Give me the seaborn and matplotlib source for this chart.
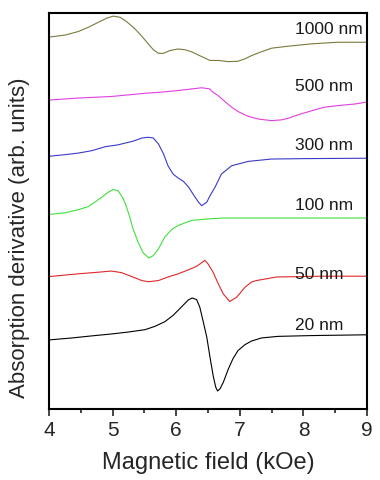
import numpy as np
import pandas as pd
import matplotlib
matplotlib.use("Agg")
import matplotlib.pyplot as plt
from matplotlib.ticker import MultipleLocator
import seaborn as sns

# Spectra (field in kOe, signal in arb. units, already offset)
field_1000 = [4.0, 4.25, 4.46, 4.62, 4.77, 4.91, 5.01, 5.12, 5.22, 5.35, 5.46, 5.56,
              5.64, 5.72, 5.80, 5.90, 6.03, 6.14, 6.24, 6.37, 6.53, 6.66, 6.82, 6.97,
              7.08, 7.18, 7.34, 7.50, 7.76, 8.13, 8.54, 9.0]
signal_1000 = [93.9, 94.4, 95.3, 96.4, 97.6, 98.7, 99.2, 98.9, 97.8, 96.0, 94.1, 92.2,
               90.7, 89.8, 89.8, 90.5, 90.9, 90.7, 90.2, 89.2, 88.0, 88.0, 87.7, 87.8,
               88.4, 89.2, 90.2, 91.1, 91.6, 92.2, 92.6, 92.6]

field_500 = [4.0, 4.46, 4.98, 5.51, 5.77, 6.03, 6.24, 6.40, 6.53, 6.56, 6.66, 6.76,
             6.87, 6.97, 7.13, 7.29, 7.50, 7.66, 7.76, 7.92, 8.13, 8.33, 8.54, 8.81, 9.0]
signal_500 = [78.0, 78.5, 78.9, 79.7, 80.0, 80.4, 80.8, 81.1, 80.8, 80.2, 79.1, 77.7,
              76.2, 75.1, 73.9, 73.2, 72.8, 73.0, 73.4, 74.3, 75.3, 76.2, 76.6, 77.0, 77.5]

field_300 = [4.0, 4.25, 4.46, 4.67, 4.88, 5.09, 5.19, 5.32, 5.46, 5.56, 5.64, 5.72,
             5.80, 5.87, 5.95, 6.03, 6.11, 6.19, 6.27, 6.35, 6.40, 6.48, 6.53, 6.61,
             6.71, 6.87, 7.13, 7.50, 8.02, 9.0]
signal_300 = [63.8, 64.2, 64.6, 65.2, 66.2, 66.7, 67.1, 67.6, 68.4, 68.6, 68.4, 66.9,
              64.4, 61.4, 59.3, 58.3, 57.5, 56.1, 54.1, 52.2, 51.3, 52.2, 53.8, 56.0,
              59.3, 61.4, 62.5, 63.1, 63.2, 63.3]

field_100 = [4.0, 4.25, 4.46, 4.62, 4.72, 4.83, 4.93, 5.01, 5.09, 5.17, 5.22, 5.27,
             5.32, 5.40, 5.48, 5.57, 5.64, 5.72, 5.82, 5.93, 6.03, 6.24, 6.53, 6.74, 9.0]
signal_100 = [49.1, 49.5, 50.3, 51.1, 52.2, 53.5, 54.7, 55.4, 55.0, 53.0, 50.9, 48.4,
              45.5, 42.1, 39.4, 38.1, 38.7, 40.4, 43.4, 45.3, 46.3, 47.6, 48.0, 48.2, 48.2]

field_50 = [4.0, 4.46, 4.77, 4.98, 5.14, 5.30, 5.46, 5.56, 5.72, 5.87, 6.03, 6.19,
            6.32, 6.45, 6.50, 6.58, 6.66, 6.74, 6.84, 6.95, 7.08, 7.18, 7.26, 7.58,
            8.31, 9.0]
signal_50 = [33.4, 34.1, 34.5, 34.8, 34.4, 33.4, 32.4, 32.1, 32.4, 33.3, 34.1, 35.1,
             36.0, 37.5, 36.6, 34.5, 31.6, 29.0, 27.1, 28.2, 30.7, 32.0, 32.4, 33.3,
             33.5, 33.5]

field_20 = [4.0, 4.36, 4.72, 4.98, 5.25, 5.51, 5.66, 5.82, 5.95, 6.08, 6.19, 6.25,
            6.32, 6.37, 6.42, 6.48, 6.53, 6.58, 6.62, 6.65, 6.69, 6.74, 6.82, 6.89,
            6.97, 7.08, 7.18, 7.34, 7.60, 8.13, 9.0]
signal_20 = [17.4, 17.9, 18.5, 18.9, 19.4, 20.0, 20.8, 22.0, 23.6, 25.7, 27.5, 28.0,
             27.6, 25.7, 22.3, 18.1, 13.1, 8.4, 5.5, 4.5, 5.1, 6.7, 10.1, 12.6,
             14.7, 16.2, 17.1, 17.9, 18.3, 18.5, 18.7]

labels = ["1000 nm", "500 nm", "300 nm", "100 nm", "50 nm", "20 nm"]
label_levels = [96.0, 81.6, 66.7, 51.5, 34.1, 21.2]
colors = ["#7a7a3c", "#e23ee2", "#3a3ac8", "#3ee03e", "#e02828", "#000000"]

fields = [field_1000, field_500, field_300, field_100, field_50, field_20]
signals = [signal_1000, signal_500, signal_300, signal_100, signal_50, signal_20]

sns.set_style("ticks")
plt.rcParams["font.family"] = ["Liberation Sans", "DejaVu Sans"]

fig, ax = plt.subplots(figsize=(3.8, 4.81), dpi=100)
fig.subplots_adjust(left=0.129, right=0.966, bottom=0.148, top=0.971)

for lab, f, s, c in zip(labels, fields, signals, colors):
    df = pd.DataFrame({"field": f, "signal": s})
    sns.lineplot(data=df, x="field", y="signal", color=c, lw=0.8, ax=ax,
                 estimator=None, sort=True)

for lab, lev in zip(labels, label_levels):
    ax.text(7.87, lev, lab, ha="left", va="center", fontsize=12.5, color="#1a1a1a")

ax.set_xlim(4, 9)
ax.set_ylim(0, 100)
ax.xaxis.set_major_locator(MultipleLocator(1))
ax.xaxis.set_minor_locator(MultipleLocator(0.5))
ax.set_yticks([])
ax.tick_params(axis="x", which="major", direction="out", length=5, width=1.2,
               labelsize=15, pad=3)
ax.tick_params(axis="x", which="minor", direction="out", length=3, width=1.2)
for sp in ax.spines.values():
    sp.set_visible(True)
    sp.set_linewidth(1.5)
    sp.set_color("black")

ax.set_xlabel("Magnetic field (kOe)", fontsize=17, labelpad=9)
ax.set_ylabel("Absorption derivative (arb. units)", fontsize=16)
ax.yaxis.set_label_coords(-0.06, 0.435)

fig.savefig("out.png", dpi=100)
